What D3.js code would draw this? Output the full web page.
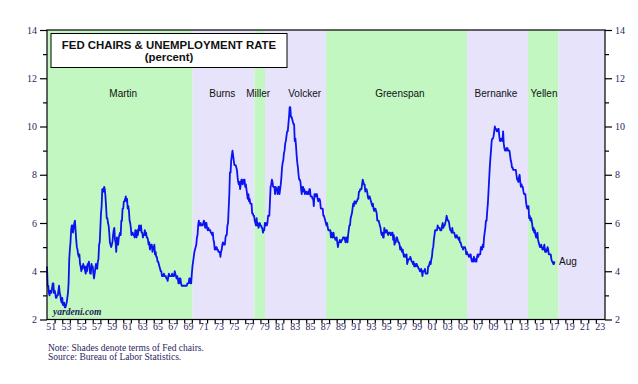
<!DOCTYPE html>
<html>
<head>
<meta charset="utf-8">
<script src="https://cdn.jsdelivr.net/npm/d3@7"></script>
<style>
  body { margin: 0; background: #fff; }
</style>
</head>
<body>
<svg id="chart"></svg>
<script>
// Monthly unemployment rate (percent), Jan 1951 .. Aug 2017
const rate1950s = [
  4.2,3.4,3.4,3.1,3.0,3.2,3.1,3.1,3.3,3.5,3.5,3.1,
  3.2,3.1,2.9,2.9,3.0,3.0,3.2,3.4,3.1,3.0,2.8,2.7,
  2.9,2.6,2.6,2.7,2.5,2.5,2.6,2.7,2.9,3.1,3.5,4.5,
  4.9,5.2,5.7,5.9,5.9,5.6,5.8,6.0,6.1,5.7,5.3,5.0,
  4.9,4.7,4.6,4.7,4.3,4.2,4.0,4.2,4.1,4.3,4.2,4.2,
  4.0,3.9,4.2,4.0,4.3,4.3,4.4,4.1,3.9,3.9,4.3,4.2,
  4.2,3.9,3.7,3.9,4.1,4.3,4.2,4.1,4.4,4.5,5.1,5.2,
  5.8,6.4,6.7,7.4,7.4,7.3,7.5,7.4,7.1,6.7,6.2,6.2,
  6.0,5.9,5.6,5.2,5.1,5.0,5.1,5.2,5.5,5.7,5.8,5.3
];
const rate1960s = [
  5.2,4.8,5.4,5.2,5.1,5.4,5.5,5.6,5.5,6.1,6.1,6.6,
  6.6,6.9,6.9,7.0,7.1,6.9,7.0,6.6,6.7,6.5,6.1,6.0,
  5.8,5.5,5.6,5.6,5.5,5.5,5.4,5.7,5.6,5.4,5.7,5.5,
  5.7,5.9,5.7,5.7,5.9,5.6,5.6,5.4,5.5,5.5,5.7,5.5,
  5.6,5.4,5.4,5.3,5.1,5.2,4.9,5.0,5.1,5.1,4.8,5.0,
  4.9,5.1,4.7,4.8,4.6,4.6,4.4,4.4,4.3,4.2,4.1,4.0,
  4.0,3.8,3.8,3.8,3.9,3.8,3.8,3.8,3.7,3.7,3.6,3.8,
  3.9,3.8,3.8,3.8,3.8,3.9,3.8,3.8,3.8,4.0,3.9,3.8,
  3.7,3.8,3.7,3.5,3.5,3.7,3.7,3.5,3.4,3.4,3.4,3.4,
  3.4,3.4,3.4,3.4,3.4,3.5,3.5,3.5,3.7,3.7,3.5,3.5
];
const rate1970s = [
  3.9,4.2,4.4,4.6,4.8,4.9,5.0,5.1,5.4,5.5,5.9,6.1,
  5.9,5.9,6.0,5.9,5.9,5.9,6.0,6.1,6.0,5.8,6.0,6.0,
  5.8,5.7,5.8,5.7,5.7,5.7,5.6,5.6,5.5,5.6,5.3,5.2,
  4.9,5.0,4.9,5.0,4.9,4.9,4.8,4.8,4.8,4.6,4.8,4.9,
  5.1,5.2,5.1,5.1,5.1,5.4,5.5,5.5,5.9,6.0,6.6,7.2,
  8.1,8.1,8.6,8.8,9.0,8.8,8.6,8.4,8.4,8.4,8.3,8.2,
  7.9,7.7,7.6,7.7,7.4,7.6,7.8,7.8,7.6,7.7,7.8,7.8,
  7.5,7.6,7.4,7.2,7.0,7.2,6.9,7.0,6.8,6.8,6.8,6.4,
  6.4,6.3,6.3,6.1,6.0,5.9,6.2,5.9,6.0,5.8,5.9,6.0,
  5.9,5.9,5.8,5.8,5.6,5.7,5.7,6.0,5.9,6.0,5.9,6.0
];
const rate1980s = [
  6.3,6.3,6.3,6.9,7.5,7.6,7.8,7.7,7.5,7.5,7.5,7.2,
  7.5,7.4,7.4,7.2,7.5,7.5,7.2,7.4,7.6,7.9,8.3,8.5,
  8.6,8.9,9.0,9.3,9.4,9.6,9.8,9.8,10.1,10.4,10.8,10.8,
  10.4,10.4,10.3,10.2,10.1,10.1,9.4,9.5,9.2,8.8,8.5,8.3,
  8.0,7.8,7.8,7.7,7.4,7.2,7.5,7.5,7.3,7.4,7.2,7.3,
  7.3,7.2,7.2,7.3,7.2,7.4,7.4,7.1,7.1,7.1,7.0,7.0,
  6.7,7.2,7.2,7.1,7.2,7.2,7.0,6.9,7.0,7.0,6.9,6.6,
  6.6,6.6,6.6,6.3,6.3,6.2,6.1,6.0,5.9,6.0,5.8,5.7,
  5.7,5.7,5.7,5.4,5.6,5.4,5.4,5.6,5.4,5.4,5.3,5.3,
  5.4,5.2,5.0,5.2,5.2,5.3,5.2,5.2,5.3,5.3,5.4,5.4
];
const rate1990s = [
  5.4,5.3,5.2,5.4,5.4,5.2,5.5,5.7,5.9,5.9,6.2,6.3,
  6.4,6.6,6.8,6.7,6.9,6.9,6.8,6.9,6.9,7.0,7.0,7.3,
  7.3,7.4,7.4,7.4,7.6,7.8,7.7,7.6,7.6,7.3,7.4,7.4,
  7.3,7.1,7.0,7.1,7.1,7.0,6.9,6.8,6.7,6.8,6.6,6.5,
  6.6,6.6,6.5,6.4,6.1,6.1,6.1,6.0,5.9,5.8,5.6,5.5,
  5.6,5.4,5.4,5.8,5.6,5.6,5.7,5.7,5.6,5.5,5.6,5.6,
  5.6,5.5,5.5,5.6,5.6,5.3,5.5,5.1,5.2,5.2,5.4,5.4,
  5.3,5.2,5.2,5.1,4.9,5.0,4.9,4.8,4.9,4.7,4.6,4.7,
  4.6,4.6,4.7,4.3,4.4,4.5,4.5,4.5,4.6,4.5,4.4,4.4,
  4.3,4.4,4.2,4.3,4.2,4.3,4.3,4.2,4.2,4.1,4.1,4.0
];
const rate2000s = [
  4.0,4.1,4.0,3.8,4.0,4.0,4.0,4.1,3.9,3.9,3.9,3.9,
  4.2,4.2,4.3,4.4,4.3,4.5,4.6,4.9,5.0,5.3,5.5,5.7,
  5.7,5.7,5.7,5.9,5.8,5.8,5.8,5.7,5.7,5.7,5.9,6.0,
  5.8,5.9,5.9,6.0,6.1,6.3,6.2,6.1,6.1,6.0,5.8,5.7,
  5.7,5.6,5.8,5.6,5.6,5.6,5.5,5.4,5.4,5.5,5.4,5.4,
  5.3,5.4,5.2,5.2,5.1,5.0,5.0,4.9,5.0,5.0,5.0,4.9,
  4.7,4.8,4.7,4.7,4.6,4.6,4.7,4.7,4.5,4.4,4.5,4.4,
  4.6,4.5,4.4,4.5,4.4,4.6,4.7,4.6,4.7,4.7,4.7,5.0,
  5.0,4.9,5.1,5.0,5.4,5.6,5.8,6.1,6.1,6.5,6.8,7.3,
  7.8,8.3,8.7,9.0,9.4,9.5,9.5,9.6,9.8,10.0,9.9,9.9
];
const rate2010s = [
  9.8,9.8,9.9,9.9,9.6,9.4,9.4,9.5,9.5,9.4,9.8,9.3,
  9.1,9.0,9.0,9.1,9.0,9.1,9.0,9.0,9.0,8.8,8.6,8.5,
  8.3,8.3,8.2,8.2,8.2,8.2,8.2,8.0,7.8,7.8,7.7,7.9,
  8.0,7.7,7.5,7.6,7.5,7.5,7.3,7.2,7.2,7.2,6.9,6.7,
  6.6,6.7,6.7,6.2,6.3,6.1,6.2,6.1,5.9,5.7,5.8,5.6,
  5.7,5.5,5.4,5.4,5.6,5.3,5.2,5.1,5.0,5.0,5.1,5.0,
  4.9,4.9,5.0,5.1,4.8,4.9,4.8,4.9,5.0,4.9,4.7,4.7,
  4.7,4.7,4.5,4.4,4.4,4.3,4.3,4.4
];
const firstYear = 1951;

// Fed chairs: start of term (decimal year) and label spot
const chairNames  = ["Martin", "Burns", "Miller", "Volcker", "Greenspan", "Bernanke", "Yellen", ""];
const chairStarts = [1951.0, 1970.1, 1978.2, 1979.6, 1987.6, 2006.1, 2014.1, 2018.1];
const chairLabelAt = [1961.0, 1974.0, 1978.7, 1984.8, 1997.3, 2009.9, 2016.2, 2021.0];
const xEnd = 2024.2;

const yMajor = [2, 4, 6, 8, 10, 12, 14];
const yMinor = [3, 5, 7, 9, 11, 13];
const yearLabels = d3.range(1951, 2024, 2);

const width = 638, height = 384;
const margin = { top: 30, right: 33, bottom: 64.5, left: 47 };

const svg = d3.select("#chart")
    .attr("width", width)
    .attr("height", height);

const x = d3.scaleLinear()
    .domain([firstYear, xEnd])
    .range([margin.left, width - margin.right]);
const y = d3.scaleLinear()
    .domain([2, 14])
    .range([height - margin.bottom, margin.top]);

const serif = "Liberation Serif";
const sans = "Liberation Sans";
const tickColor = "#2b2560";

// Shades
const terms = chairNames.map((name, i) => ({
    name,
    start: chairStarts[i],
    end: i < chairStarts.length - 1 ? chairStarts[i + 1] : xEnd,
    labelAt: chairLabelAt[i],
    shade: i % 2 === 0 ? "#c2f7c2" : "#e7e3fb"
}));

svg.append("g")
    .selectAll("rect")
    .data(terms)
    .join("rect")
    .attr("x", d => x(d.start))
    .attr("width", d => x(d.end) - x(d.start))
    .attr("y", y(14))
    .attr("height", y(2) - y(14))
    .attr("fill", d => d.shade);

svg.append("g")
    .selectAll("text")
    .data(terms.filter(d => d.name))
    .join("text")
    .attr("x", d => x(d.labelAt))
    .attr("y", 96.5)
    .attr("text-anchor", "middle")
    .attr("font-family", sans)
    .attr("font-size", 10)
    .attr("fill", "#111")
    .text(d => d.name);

// Series
const values = [].concat(rate1950s, rate1960s, rate1970s, rate1980s, rate1990s, rate2000s, rate2010s);
const series = values.map((v, i) => ({ t: firstYear + i / 12, v }));

const line = d3.line()
    .x(d => x(d.t))
    .y(d => y(d.v));

svg.append("path")
    .datum(series)
    .attr("fill", "none")
    .attr("stroke", "#0a14f0")
    .attr("stroke-width", 1.8)
    .attr("stroke-linejoin", "round")
    .attr("d", line);

const last = series[series.length - 1];
svg.append("text")
    .attr("x", x(last.t) + 4.5)
    .attr("y", y(last.v) + 3.5)
    .attr("font-family", sans)
    .attr("font-size", 10)
    .attr("fill", "#111")
    .text("Aug");

// Frame
svg.append("rect")
    .attr("x", x(firstYear))
    .attr("y", y(14))
    .attr("width", x(xEnd) - x(firstYear))
    .attr("height", y(2) - y(14))
    .attr("fill", "none")
    .attr("stroke", "#000")
    .attr("stroke-width", 1.2);

// Axes
function styleAxis(g) {
    g.attr("font-family", serif).attr("font-size", 10);
    g.select(".domain").remove();
    g.selectAll(".tick line").attr("stroke", "#000").attr("stroke-width", 1.2);
    g.selectAll(".tick text").attr("fill", tickColor);
}

svg.append("g")
    .attr("transform", `translate(${x(firstYear)},0)`)
    .call(d3.axisLeft(y).tickValues(yMajor).tickSize(7).tickPadding(3).tickFormat(d3.format("d")))
    .call(styleAxis);
svg.append("g")
    .attr("transform", `translate(${x(firstYear)},0)`)
    .call(d3.axisLeft(y).tickValues(yMinor).tickSize(4).tickFormat(""))
    .call(styleAxis);
svg.append("g")
    .attr("transform", `translate(${x(xEnd)},0)`)
    .call(d3.axisRight(y).tickValues(yMajor).tickSize(7).tickPadding(3).tickFormat(d3.format("d")))
    .call(styleAxis);
svg.append("g")
    .attr("transform", `translate(${x(xEnd)},0)`)
    .call(d3.axisRight(y).tickValues(yMinor).tickSize(4).tickFormat(""))
    .call(styleAxis);

// Year ticks and labels
svg.append("g")
    .attr("transform", `translate(0,${y(2)})`)
    .call(d3.axisBottom(x).tickValues(d3.range(1952, 2024, 1)).tickSize(4).tickFormat(""))
    .call(styleAxis);
svg.append("g")
    .attr("transform", `translate(0,${y(2)})`)
    .call(d3.axisBottom(x).tickValues(yearLabels.map(d => d + 0.5)).tickSize(0).tickPadding(3)
        .tickFormat(d => d3.format("02d")(Math.floor(d) % 100)))
    .call(styleAxis);

// Title box
const titleX = 51, titleW = 236;
svg.append("rect")
    .attr("x", titleX)
    .attr("y", 33.5)
    .attr("width", titleW)
    .attr("height", 34)
    .attr("fill", "#fff")
    .attr("stroke", "#000")
    .attr("stroke-width", 1);
svg.append("text")
    .attr("x", titleX + titleW / 2)
    .attr("y", 49)
    .attr("text-anchor", "middle")
    .attr("font-family", sans)
    .attr("font-weight", "bold")
    .attr("font-size", 11.4)
    .attr("fill", "#111")
    .text("FED CHAIRS & UNEMPLOYMENT RATE");
svg.append("text")
    .attr("x", titleX + titleW / 2)
    .attr("y", 60.5)
    .attr("text-anchor", "middle")
    .attr("font-family", sans)
    .attr("font-weight", "bold")
    .attr("font-size", 11.4)
    .attr("fill", "#111")
    .text("(percent)");

// Watermark
svg.append("text")
    .attr("x", 53)
    .attr("y", 315)
    .attr("font-family", serif)
    .attr("font-weight", "bold")
    .attr("font-style", "italic")
    .attr("font-size", 9.5)
    .attr("fill", "#1c1c55")
    .text("yardeni.com");

// Notes
svg.append("text")
    .attr("x", 48)
    .attr("y", 350.5)
    .attr("font-family", serif)
    .attr("font-size", 9.5)
    .attr("fill", tickColor)
    .text("Note: Shades denote terms of Fed chairs.");
svg.append("text")
    .attr("x", 48)
    .attr("y", 359.5)
    .attr("font-family", serif)
    .attr("font-size", 9.5)
    .attr("fill", tickColor)
    .text("Source: Bureau of Labor Statistics.");
</script>
</body>
</html>
